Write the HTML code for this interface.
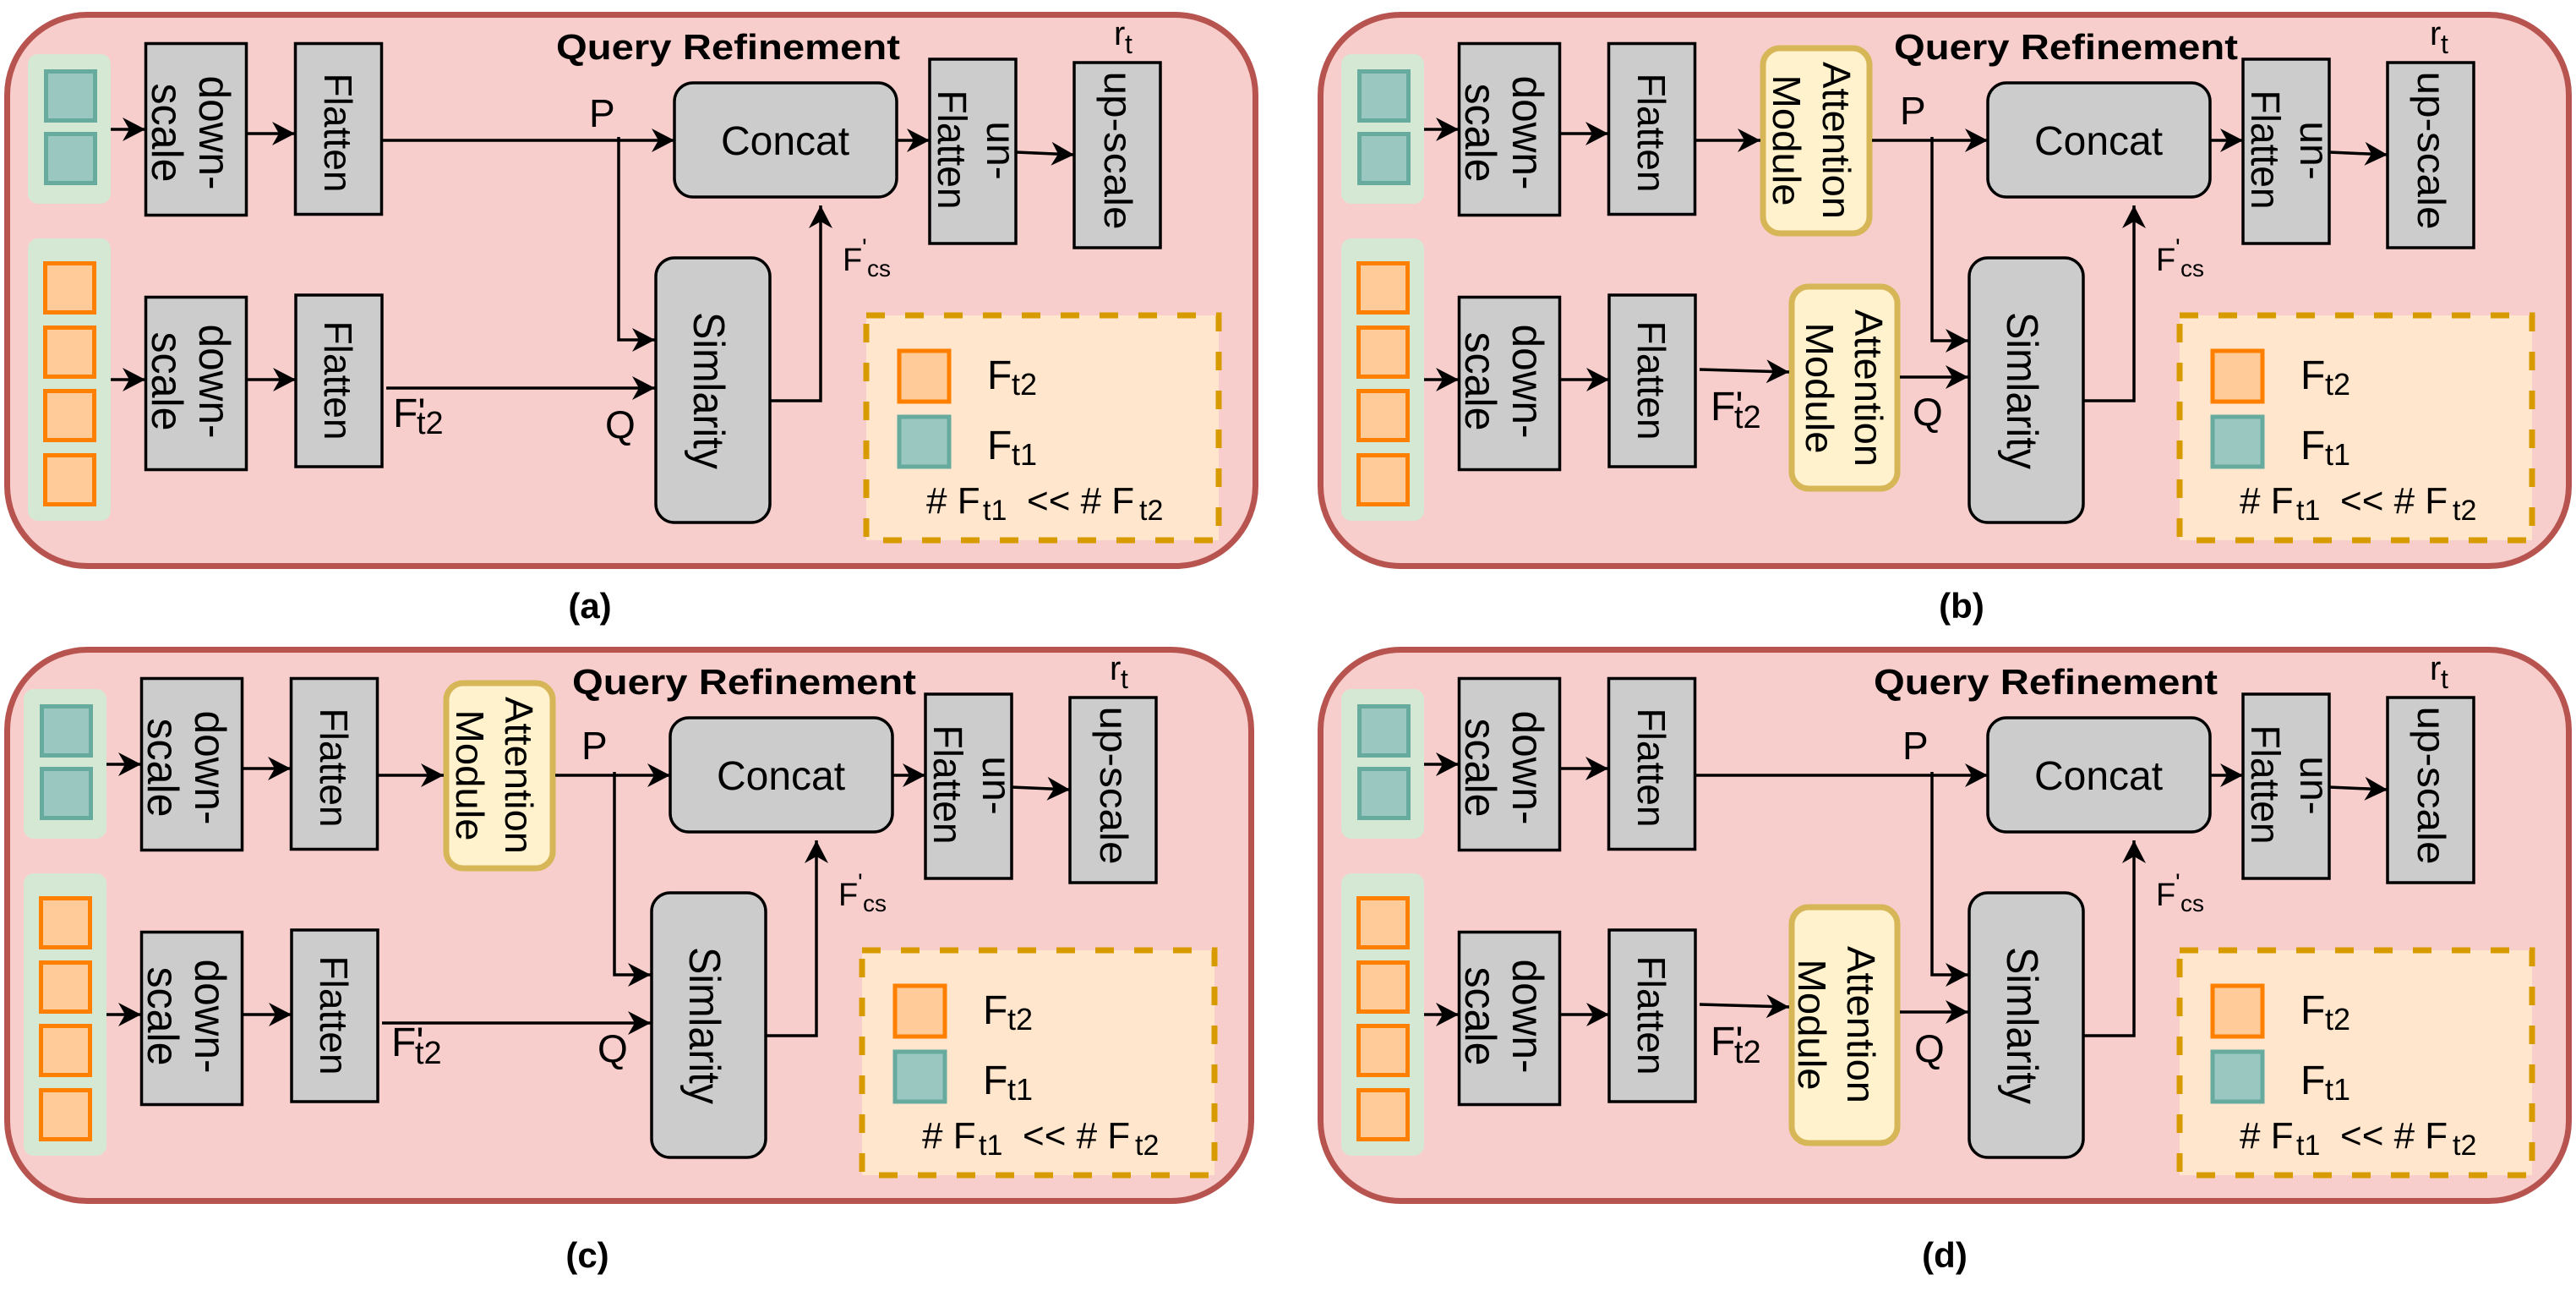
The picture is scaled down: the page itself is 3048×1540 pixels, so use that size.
<!DOCTYPE html>
<html><head><meta charset="utf-8">
<style>
html,body{margin:0;padding:0;background:#fff;}
svg{display:block;}
text{font-family:"Liberation Sans",Arial,sans-serif;fill:#000;}
.pn{fill:#f8cecc;stroke:#b85450;stroke-width:7;}
.gb{fill:#d5e8d4;}
.ts{fill:#9ac7bf;stroke:#67ab9f;stroke-width:5;}
.os{fill:#ffcc99;stroke:#ff8000;stroke-width:5;}
.bx{fill:#cccccc;stroke:#000;stroke-width:3.5;}
.at{fill:#fff2cc;stroke:#d6b656;stroke-width:7;}
.lg{fill:#ffe6cc;stroke:#d79b00;stroke-width:7;stroke-dasharray:22 24;}
.ln{fill:none;stroke:#000;stroke-width:3.5;}
.ti{font-weight:bold;font-size:42px;}
.cap{font-weight:bold;font-size:42px;}
</style></head>
<body>
<svg width="3048" height="1540" viewBox="0 0 3048 1540" xmlns="http://www.w3.org/2000/svg">
<defs>
<marker id="ah" markerUnits="userSpaceOnUse" markerWidth="30" markerHeight="30" refX="27" refY="14" orient="auto">
<path d="M0,0 L27,14 L0,28 L8,14 z" fill="#000"/>
</marker>
</defs>

<!-- ================= PANEL A ================= -->
<g transform="translate(0,0)">
<rect class="pn" x="8.5" y="17.5" width="1477" height="652" rx="95"/>
<text class="ti" x="658" y="70" textLength="407" lengthAdjust="spacingAndGlyphs">Query Refinement</text>
<rect class="gb" x="33" y="64" width="98" height="177" rx="12"/>
<rect class="ts" x="54.5" y="84.5" width="58" height="58"/>
<rect class="ts" x="54.5" y="158.5" width="58" height="58"/>
<rect class="gb" x="33" y="282" width="98" height="334" rx="12"/>
<rect class="os" x="53.5" y="311.5" width="58" height="58"/>
<rect class="os" x="53.5" y="387.5" width="58" height="58"/>
<rect class="os" x="53.5" y="462.5" width="58" height="58"/>
<rect class="os" x="53.5" y="538.5" width="58" height="58"/>
<rect class="bx" x="172.5" y="51.5" width="119" height="203"/>
<text transform="translate(236,157) rotate(90)" text-anchor="middle" font-size="52" textLength="135" lengthAdjust="spacingAndGlyphs">down-</text>
<text transform="translate(180,157) rotate(90)" text-anchor="middle" font-size="52" textLength="117" lengthAdjust="spacingAndGlyphs">scale</text>
<rect class="bx" x="349.5" y="51.5" width="102" height="202"/>
<text transform="translate(384,157) rotate(90)" text-anchor="middle" font-size="46" textLength="141" lengthAdjust="spacingAndGlyphs">Flatten</text>
<rect class="bx" x="172.5" y="351.5" width="119" height="204"/>
<text transform="translate(236,451) rotate(90)" text-anchor="middle" font-size="52" textLength="135" lengthAdjust="spacingAndGlyphs">down-</text>
<text transform="translate(180,451) rotate(90)" text-anchor="middle" font-size="52" textLength="117" lengthAdjust="spacingAndGlyphs">scale</text>
<rect class="bx" x="350" y="349" width="102" height="203"/>
<text transform="translate(384,450) rotate(90)" text-anchor="middle" font-size="46" textLength="141" lengthAdjust="spacingAndGlyphs">Flatten</text>
<rect class="bx" x="798" y="98" width="263" height="135" rx="22"/>
<text x="929" y="183" text-anchor="middle" font-size="48">Concat</text>
<rect class="bx" x="1100" y="70" width="102" height="218"/>
<text transform="translate(1168,178) rotate(90)" text-anchor="middle" font-size="48">un-</text>
<text transform="translate(1110,177) rotate(90)" text-anchor="middle" font-size="48" textLength="141" lengthAdjust="spacingAndGlyphs">Flatten</text>
<rect class="bx" x="1271" y="74" width="102" height="219"/>
<text transform="translate(1307,178) rotate(90)" text-anchor="middle" font-size="46" textLength="187" lengthAdjust="spacingAndGlyphs">up-scale</text>
<text x="1318" y="53" font-size="40">r</text><text x="1331" y="63" font-size="32">t</text>
<rect class="bx" x="776" y="305" width="135" height="313" rx="22"/>
<text transform="translate(821,462) rotate(90)" text-anchor="middle" font-size="52" textLength="186" lengthAdjust="spacingAndGlyphs">Simlarity</text>
<rect class="lg" x="1025" y="373" width="417" height="266"/>
<rect class="os" x="1064" y="415" width="59" height="60"/>
<rect class="ts" x="1064" y="493" width="59" height="59"/>
<text x="1168" y="460" font-size="48">F</text><text x="1197" y="467" font-size="36">t2</text>
<text x="1168" y="543" font-size="48">F</text><text x="1197" y="550" font-size="36">t1</text>
<text x="1096" y="607" font-size="44"># F</text><text x="1163" y="615" font-size="34">t1</text>
<text x="1215" y="607" font-size="44">&lt;&lt; # F</text><text x="1348" y="615" font-size="34">t2</text>
<line class="ln" x1="131" y1="153" x2="172" y2="153" marker-end="url(#ah)"/>
<line class="ln" x1="292" y1="158" x2="349" y2="158" marker-end="url(#ah)"/>
<line class="ln" x1="131" y1="449" x2="172" y2="449" marker-end="url(#ah)"/>
<line class="ln" x1="292" y1="449" x2="350" y2="449" marker-end="url(#ah)"/>
<line class="ln" x1="452" y1="166" x2="798" y2="166" marker-end="url(#ah)"/>
<polyline class="ln" points="732,162 732,402 775,402" marker-end="url(#ah)"/>
<line class="ln" x1="457" y1="459" x2="775" y2="459" marker-end="url(#ah)"/>
<line class="ln" x1="1061" y1="166" x2="1100" y2="166" marker-end="url(#ah)"/>
<line class="ln" x1="1202" y1="180" x2="1271" y2="183" marker-end="url(#ah)"/>
<polyline class="ln" points="911,474 971,474 971,243" marker-end="url(#ah)"/>
<text x="697" y="150" font-size="46">P</text>
<text x="465" y="505" font-size="48">F'</text><text x="493" y="513" font-size="38">t2</text>
<text x="716" y="518" font-size="46">Q</text>
<text x="997" y="320" font-size="38">F</text><text x="1020" y="303" font-size="30">'</text><text x="1026" y="327" font-size="28">cs</text>
</g>
<text class="cap" x="698" y="731" text-anchor="middle">(a)</text>

<!-- ================= PANEL B ================= -->
<g transform="translate(1554,0)">
<rect class="pn" x="8.5" y="17.5" width="1477" height="652" rx="95"/>
<text class="ti" x="687" y="70" textLength="407" lengthAdjust="spacingAndGlyphs">Query Refinement</text>
<rect class="gb" x="33" y="64" width="98" height="177" rx="12"/>
<rect class="ts" x="54.5" y="84.5" width="58" height="58"/>
<rect class="ts" x="54.5" y="158.5" width="58" height="58"/>
<rect class="gb" x="33" y="282" width="98" height="334" rx="12"/>
<rect class="os" x="53.5" y="311.5" width="58" height="58"/>
<rect class="os" x="53.5" y="387.5" width="58" height="58"/>
<rect class="os" x="53.5" y="462.5" width="58" height="58"/>
<rect class="os" x="53.5" y="538.5" width="58" height="58"/>
<rect class="bx" x="172.5" y="51.5" width="119" height="203"/>
<text transform="translate(236,157) rotate(90)" text-anchor="middle" font-size="52" textLength="135" lengthAdjust="spacingAndGlyphs">down-</text>
<text transform="translate(180,157) rotate(90)" text-anchor="middle" font-size="52" textLength="117" lengthAdjust="spacingAndGlyphs">scale</text>
<rect class="bx" x="349.5" y="51.5" width="102" height="202"/>
<text transform="translate(384,157) rotate(90)" text-anchor="middle" font-size="46" textLength="141" lengthAdjust="spacingAndGlyphs">Flatten</text>
<rect class="bx" x="172.5" y="351.5" width="119" height="204"/>
<text transform="translate(236,451) rotate(90)" text-anchor="middle" font-size="52" textLength="135" lengthAdjust="spacingAndGlyphs">down-</text>
<text transform="translate(180,451) rotate(90)" text-anchor="middle" font-size="52" textLength="117" lengthAdjust="spacingAndGlyphs">scale</text>
<rect class="bx" x="350" y="349" width="102" height="203"/>
<text transform="translate(384,450) rotate(90)" text-anchor="middle" font-size="46" textLength="141" lengthAdjust="spacingAndGlyphs">Flatten</text>
<rect class="at" x="532" y="57" width="126" height="219" rx="20"/>
<text transform="translate(603,166) rotate(90)" text-anchor="middle" font-size="46" textLength="186" lengthAdjust="spacingAndGlyphs">Attention</text>
<text transform="translate(544,166) rotate(90)" text-anchor="middle" font-size="46" textLength="155" lengthAdjust="spacingAndGlyphs">Module</text>
<rect class="at" x="566" y="339" width="125" height="239" rx="20"/>
<text transform="translate(641,459) rotate(90)" text-anchor="middle" font-size="46" textLength="186" lengthAdjust="spacingAndGlyphs">Attention</text>
<text transform="translate(583,459) rotate(90)" text-anchor="middle" font-size="46" textLength="155" lengthAdjust="spacingAndGlyphs">Module</text>
<rect class="bx" x="798" y="98" width="263" height="135" rx="22"/>
<text x="929" y="183" text-anchor="middle" font-size="48">Concat</text>
<rect class="bx" x="1100" y="70" width="102" height="218"/>
<text transform="translate(1168,178) rotate(90)" text-anchor="middle" font-size="48">un-</text>
<text transform="translate(1110,177) rotate(90)" text-anchor="middle" font-size="48" textLength="141" lengthAdjust="spacingAndGlyphs">Flatten</text>
<rect class="bx" x="1271" y="74" width="102" height="219"/>
<text transform="translate(1307,178) rotate(90)" text-anchor="middle" font-size="46" textLength="187" lengthAdjust="spacingAndGlyphs">up-scale</text>
<text x="1321" y="53" font-size="40">r</text><text x="1334" y="63" font-size="32">t</text>
<rect class="bx" x="776" y="305" width="135" height="313" rx="22"/>
<text transform="translate(821,462) rotate(90)" text-anchor="middle" font-size="52" textLength="186" lengthAdjust="spacingAndGlyphs">Simlarity</text>
<rect class="lg" x="1025" y="373" width="417" height="266"/>
<rect class="os" x="1064" y="415" width="59" height="60"/>
<rect class="ts" x="1064" y="493" width="59" height="59"/>
<text x="1168" y="460" font-size="48">F</text><text x="1197" y="467" font-size="36">t2</text>
<text x="1168" y="543" font-size="48">F</text><text x="1197" y="550" font-size="36">t1</text>
<text x="1096" y="607" font-size="44"># F</text><text x="1163" y="615" font-size="34">t1</text>
<text x="1215" y="607" font-size="44">&lt;&lt; # F</text><text x="1348" y="615" font-size="34">t2</text>
<line class="ln" x1="131" y1="153" x2="172" y2="153" marker-end="url(#ah)"/>
<line class="ln" x1="292" y1="158" x2="349" y2="158" marker-end="url(#ah)"/>
<line class="ln" x1="131" y1="449" x2="172" y2="449" marker-end="url(#ah)"/>
<line class="ln" x1="292" y1="449" x2="350" y2="449" marker-end="url(#ah)"/>
<line class="ln" x1="452" y1="166" x2="529" y2="166" marker-end="url(#ah)"/>
<line class="ln" x1="661" y1="166" x2="798" y2="166" marker-end="url(#ah)"/>
<polyline class="ln" points="732,162 732,403 775,403" marker-end="url(#ah)"/>
<line class="ln" x1="457" y1="437" x2="563" y2="440" marker-end="url(#ah)"/>
<line class="ln" x1="694" y1="446" x2="775" y2="446" marker-end="url(#ah)"/>
<line class="ln" x1="1061" y1="166" x2="1100" y2="166" marker-end="url(#ah)"/>
<line class="ln" x1="1202" y1="180" x2="1271" y2="183" marker-end="url(#ah)"/>
<polyline class="ln" points="911,474 971,474 971,243" marker-end="url(#ah)"/>
<text x="694" y="147" font-size="46">P</text>
<text x="470" y="497" font-size="48">F'</text><text x="498" y="506" font-size="38">t2</text>
<text x="709" y="503" font-size="46">Q</text>
<text x="997" y="320" font-size="38">F</text><text x="1020" y="303" font-size="30">'</text><text x="1026" y="327" font-size="28">cs</text>
</g>
<text class="cap" x="2321" y="731" text-anchor="middle">(b)</text>

<!-- ================= PANEL C ================= -->
<g transform="translate(-5,751)">
<rect class="pn" x="13.5" y="17.5" width="1472" height="652" rx="95"/>
<text class="ti" x="682" y="70" textLength="407" lengthAdjust="spacingAndGlyphs">Query Refinement</text>
<rect class="gb" x="33" y="64" width="98" height="177" rx="12"/>
<rect class="ts" x="54.5" y="84.5" width="58" height="58"/>
<rect class="ts" x="54.5" y="158.5" width="58" height="58"/>
<rect class="gb" x="33" y="282" width="98" height="334" rx="12"/>
<rect class="os" x="53.5" y="311.5" width="58" height="58"/>
<rect class="os" x="53.5" y="387.5" width="58" height="58"/>
<rect class="os" x="53.5" y="462.5" width="58" height="58"/>
<rect class="os" x="53.5" y="538.5" width="58" height="58"/>
<rect class="bx" x="172.5" y="51.5" width="119" height="203"/>
<text transform="translate(236,157) rotate(90)" text-anchor="middle" font-size="52" textLength="135" lengthAdjust="spacingAndGlyphs">down-</text>
<text transform="translate(180,157) rotate(90)" text-anchor="middle" font-size="52" textLength="117" lengthAdjust="spacingAndGlyphs">scale</text>
<rect class="bx" x="349.5" y="51.5" width="102" height="202"/>
<text transform="translate(384,157) rotate(90)" text-anchor="middle" font-size="46" textLength="141" lengthAdjust="spacingAndGlyphs">Flatten</text>
<rect class="bx" x="172.5" y="351.5" width="119" height="204"/>
<text transform="translate(236,451) rotate(90)" text-anchor="middle" font-size="52" textLength="135" lengthAdjust="spacingAndGlyphs">down-</text>
<text transform="translate(180,451) rotate(90)" text-anchor="middle" font-size="52" textLength="117" lengthAdjust="spacingAndGlyphs">scale</text>
<rect class="bx" x="350" y="349" width="102" height="203"/>
<text transform="translate(384,450) rotate(90)" text-anchor="middle" font-size="46" textLength="141" lengthAdjust="spacingAndGlyphs">Flatten</text>
<rect class="at" x="533" y="57" width="126" height="219" rx="20"/>
<text transform="translate(603,166) rotate(90)" text-anchor="middle" font-size="46" textLength="186" lengthAdjust="spacingAndGlyphs">Attention</text>
<text transform="translate(545,166) rotate(90)" text-anchor="middle" font-size="46" textLength="155" lengthAdjust="spacingAndGlyphs">Module</text>
<rect class="bx" x="798" y="98" width="263" height="135" rx="22"/>
<text x="929" y="183" text-anchor="middle" font-size="48">Concat</text>
<rect class="bx" x="1100" y="70" width="102" height="218"/>
<text transform="translate(1168,178) rotate(90)" text-anchor="middle" font-size="48">un-</text>
<text transform="translate(1110,177) rotate(90)" text-anchor="middle" font-size="48" textLength="141" lengthAdjust="spacingAndGlyphs">Flatten</text>
<rect class="bx" x="1271" y="74" width="102" height="219"/>
<text transform="translate(1307,178) rotate(90)" text-anchor="middle" font-size="46" textLength="187" lengthAdjust="spacingAndGlyphs">up-scale</text>
<text x="1318" y="53" font-size="40">r</text><text x="1331" y="63" font-size="32">t</text>
<rect class="bx" x="776" y="305" width="135" height="313" rx="22"/>
<text transform="translate(821,462) rotate(90)" text-anchor="middle" font-size="52" textLength="186" lengthAdjust="spacingAndGlyphs">Simlarity</text>
<rect class="lg" x="1025" y="373" width="417" height="266"/>
<rect class="os" x="1064" y="415" width="59" height="60"/>
<rect class="ts" x="1064" y="493" width="59" height="59"/>
<text x="1168" y="460" font-size="48">F</text><text x="1197" y="467" font-size="36">t2</text>
<text x="1168" y="543" font-size="48">F</text><text x="1197" y="550" font-size="36">t1</text>
<text x="1096" y="607" font-size="44"># F</text><text x="1163" y="615" font-size="34">t1</text>
<text x="1215" y="607" font-size="44">&lt;&lt; # F</text><text x="1348" y="615" font-size="34">t2</text>
<line class="ln" x1="131" y1="153" x2="172" y2="153" marker-end="url(#ah)"/>
<line class="ln" x1="292" y1="158" x2="349" y2="158" marker-end="url(#ah)"/>
<line class="ln" x1="131" y1="449" x2="172" y2="449" marker-end="url(#ah)"/>
<line class="ln" x1="292" y1="449" x2="350" y2="449" marker-end="url(#ah)"/>
<line class="ln" x1="452" y1="166" x2="530" y2="166" marker-end="url(#ah)"/>
<line class="ln" x1="662" y1="166" x2="798" y2="166" marker-end="url(#ah)"/>
<polyline class="ln" points="732,162 732,402 775,402" marker-end="url(#ah)"/>
<line class="ln" x1="457" y1="459" x2="775" y2="459" marker-end="url(#ah)"/>
<line class="ln" x1="1061" y1="166" x2="1100" y2="166" marker-end="url(#ah)"/>
<line class="ln" x1="1202" y1="180" x2="1271" y2="183" marker-end="url(#ah)"/>
<polyline class="ln" points="911,474 971,474 971,243" marker-end="url(#ah)"/>
<text x="693" y="147" font-size="46">P</text>
<text x="468" y="498" font-size="48">F'</text><text x="496" y="507" font-size="38">t2</text>
<text x="712" y="505" font-size="46">Q</text>
<text x="997" y="320" font-size="38">F</text><text x="1020" y="303" font-size="30">'</text><text x="1026" y="327" font-size="28">cs</text>
</g>
<text class="cap" x="695" y="1499" text-anchor="middle">(c)</text>

<!-- ================= PANEL D ================= -->
<g transform="translate(1554,751)">
<rect class="pn" x="8.5" y="17.5" width="1477" height="652" rx="95"/>
<text class="ti" x="663" y="70" textLength="407" lengthAdjust="spacingAndGlyphs">Query Refinement</text>
<rect class="gb" x="33" y="64" width="98" height="177" rx="12"/>
<rect class="ts" x="54.5" y="84.5" width="58" height="58"/>
<rect class="ts" x="54.5" y="158.5" width="58" height="58"/>
<rect class="gb" x="33" y="282" width="98" height="334" rx="12"/>
<rect class="os" x="53.5" y="311.5" width="58" height="58"/>
<rect class="os" x="53.5" y="387.5" width="58" height="58"/>
<rect class="os" x="53.5" y="462.5" width="58" height="58"/>
<rect class="os" x="53.5" y="538.5" width="58" height="58"/>
<rect class="bx" x="172.5" y="51.5" width="119" height="203"/>
<text transform="translate(236,157) rotate(90)" text-anchor="middle" font-size="52" textLength="135" lengthAdjust="spacingAndGlyphs">down-</text>
<text transform="translate(180,157) rotate(90)" text-anchor="middle" font-size="52" textLength="117" lengthAdjust="spacingAndGlyphs">scale</text>
<rect class="bx" x="349.5" y="51.5" width="102" height="202"/>
<text transform="translate(384,157) rotate(90)" text-anchor="middle" font-size="46" textLength="141" lengthAdjust="spacingAndGlyphs">Flatten</text>
<rect class="bx" x="172.5" y="351.5" width="119" height="204"/>
<text transform="translate(236,451) rotate(90)" text-anchor="middle" font-size="52" textLength="135" lengthAdjust="spacingAndGlyphs">down-</text>
<text transform="translate(180,451) rotate(90)" text-anchor="middle" font-size="52" textLength="117" lengthAdjust="spacingAndGlyphs">scale</text>
<rect class="bx" x="350" y="349" width="102" height="203"/>
<text transform="translate(384,450) rotate(90)" text-anchor="middle" font-size="46" textLength="141" lengthAdjust="spacingAndGlyphs">Flatten</text>
<rect class="at" x="566" y="322" width="125" height="279" rx="20"/>
<text transform="translate(632,461) rotate(90)" text-anchor="middle" font-size="46" textLength="186" lengthAdjust="spacingAndGlyphs">Attention</text>
<text transform="translate(574,461) rotate(90)" text-anchor="middle" font-size="46" textLength="155" lengthAdjust="spacingAndGlyphs">Module</text>
<rect class="bx" x="798" y="98" width="263" height="135" rx="22"/>
<text x="929" y="183" text-anchor="middle" font-size="48">Concat</text>
<rect class="bx" x="1100" y="70" width="102" height="218"/>
<text transform="translate(1168,178) rotate(90)" text-anchor="middle" font-size="48">un-</text>
<text transform="translate(1110,177) rotate(90)" text-anchor="middle" font-size="48" textLength="141" lengthAdjust="spacingAndGlyphs">Flatten</text>
<rect class="bx" x="1271" y="74" width="102" height="219"/>
<text transform="translate(1307,178) rotate(90)" text-anchor="middle" font-size="46" textLength="187" lengthAdjust="spacingAndGlyphs">up-scale</text>
<text x="1321" y="53" font-size="40">r</text><text x="1334" y="63" font-size="32">t</text>
<rect class="bx" x="776" y="305" width="135" height="313" rx="22"/>
<text transform="translate(821,462) rotate(90)" text-anchor="middle" font-size="52" textLength="186" lengthAdjust="spacingAndGlyphs">Simlarity</text>
<rect class="lg" x="1025" y="373" width="417" height="266"/>
<rect class="os" x="1064" y="415" width="59" height="60"/>
<rect class="ts" x="1064" y="493" width="59" height="59"/>
<text x="1168" y="460" font-size="48">F</text><text x="1197" y="467" font-size="36">t2</text>
<text x="1168" y="543" font-size="48">F</text><text x="1197" y="550" font-size="36">t1</text>
<text x="1096" y="607" font-size="44"># F</text><text x="1163" y="615" font-size="34">t1</text>
<text x="1215" y="607" font-size="44">&lt;&lt; # F</text><text x="1348" y="615" font-size="34">t2</text>
<line class="ln" x1="131" y1="153" x2="172" y2="153" marker-end="url(#ah)"/>
<line class="ln" x1="292" y1="158" x2="349" y2="158" marker-end="url(#ah)"/>
<line class="ln" x1="131" y1="449" x2="172" y2="449" marker-end="url(#ah)"/>
<line class="ln" x1="292" y1="449" x2="350" y2="449" marker-end="url(#ah)"/>
<line class="ln" x1="452" y1="166" x2="798" y2="166" marker-end="url(#ah)"/>
<polyline class="ln" points="732,162 732,402 775,402" marker-end="url(#ah)"/>
<line class="ln" x1="457" y1="437" x2="563" y2="440" marker-end="url(#ah)"/>
<line class="ln" x1="694" y1="446" x2="775" y2="446" marker-end="url(#ah)"/>
<line class="ln" x1="1061" y1="166" x2="1100" y2="166" marker-end="url(#ah)"/>
<line class="ln" x1="1202" y1="180" x2="1271" y2="183" marker-end="url(#ah)"/>
<polyline class="ln" points="911,474 971,474 971,243" marker-end="url(#ah)"/>
<text x="697" y="147" font-size="46">P</text>
<text x="470" y="497" font-size="48">F'</text><text x="498" y="506" font-size="38">t2</text>
<text x="711" y="505" font-size="46">Q</text>
<text x="997" y="320" font-size="38">F</text><text x="1020" y="303" font-size="30">'</text><text x="1026" y="327" font-size="28">cs</text>
</g>
<text class="cap" x="2301" y="1499" text-anchor="middle">(d)</text>
</svg>
</body></html>
